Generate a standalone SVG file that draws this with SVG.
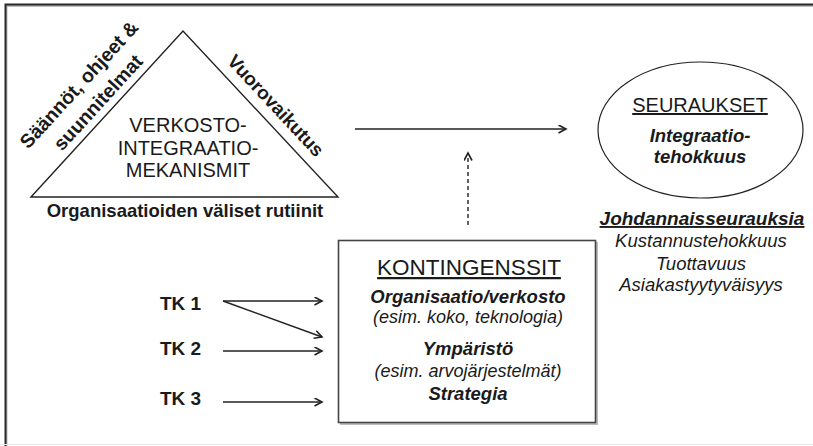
<svg xmlns="http://www.w3.org/2000/svg" width="813" height="446" viewBox="0 0 813 446">
<defs>
<style>
text{font-family:"Liberation Sans",Arial,sans-serif;fill:#1a1a1a;}
.c{text-anchor:middle;}
.b{font-weight:bold;}
.i{font-style:italic;}
.u{text-decoration:underline;}
.ln{stroke:#222;stroke-width:1.4;fill:none;}
</style>
<marker id="ah" markerWidth="10" markerHeight="10" refX="8" refY="4.5" orient="auto" markerUnits="userSpaceOnUse">
<path d="M0.5,0.5 L8,4.5 L0.5,8.5" fill="none" stroke="#222" stroke-width="1.6"/>
</marker>
</defs>
<rect width="813" height="446" fill="#fff"/>
<g id="frame">
<path d="M5.5,446 V4.5 H813" fill="none" stroke="#bbb" stroke-width="2" transform="translate(1,1.5)"/>
<path d="M5.5,446 V4.5 H813" fill="none" stroke="#2a2a2a" stroke-width="2"/>
<line x1="0" y1="444.5" x2="813" y2="444.5" stroke="#e6e6e6" stroke-width="1"/>
</g>
<g id="mekanismit">
<polygon points="31,197 183,31 338,197" fill="#fff" stroke="#222" stroke-width="1.4"/>
<text class="c" x="188" y="132" font-size="20">VERKOSTO-</text>
<text class="c" x="188" y="155" font-size="20">INTEGRAATIO-</text>
<text class="c" x="188" y="177" font-size="20">MEKANISMIT</text>
<text class="c b" x="185" y="217" font-size="18.5">Organisaatioiden väliset rutiinit</text>
<text class="c b" font-size="19.5" transform="translate(84,89) rotate(-47.5)">Säännöt, ohjeet &amp;</text>
<text class="c b" font-size="19.5" transform="translate(103,107) rotate(-47.5)">suunnitelmat</text>
<text class="c b" font-size="19" transform="translate(271,110) rotate(47)">Vuorovaikutus</text>
</g>
<g id="seuraukset">
<ellipse cx="700.5" cy="130" rx="102.5" ry="68" fill="#fff" stroke="#222" stroke-width="1.2"/>
<text class="c u" x="700" y="112" font-size="20">SEURAUKSET</text>
<text class="c b i" x="700" y="142" font-size="18.5">Integraatio-</text>
<text class="c b i" x="700" y="163" font-size="18.5">tehokkuus</text>
</g>
<g id="johdannaiset">
<text class="c b i u" x="702" y="225" font-size="19">Johdannaisseurauksia</text>
<text class="c i" x="701" y="247" font-size="18.5">Kustannustehokkuus</text>
<text class="c i" x="701" y="270" font-size="18.5">Tuottavuus</text>
<text class="c i" x="701" y="291" font-size="18.5">Asiakastyytyväisyys</text>
</g>
<g id="kontingenssit">
<rect x="340" y="242" width="258" height="183" fill="#bbb"/>
<rect x="338.5" y="240.5" width="257" height="182" fill="#fff" stroke="#444" stroke-width="1.6"/>
<text class="c u" x="469" y="275" font-size="22.5">KONTINGENSSIT</text>
<text class="c b i" x="468" y="303" font-size="18.5">Organisaatio/verkosto</text>
<text class="c i" x="468" y="323" font-size="18">(esim. koko, teknologia)</text>
<text class="c b i" x="468" y="355" font-size="18.5">Ympäristö</text>
<text class="c i" x="468" y="377" font-size="18">(esim. arvojärjestelmät)</text>
<text class="c b i" x="468" y="400" font-size="18.5">Strategia</text>
</g>
<g id="tk1"><text class="b" x="160" y="310" font-size="19">TK 1</text></g>
<g id="tk2"><text class="b" x="160" y="355" font-size="19">TK 2</text></g>
<g id="tk3"><text class="b" x="160" y="405" font-size="19">TK 3</text></g>
<g id="connectors">
<line class="ln" x1="355" y1="129" x2="566" y2="129" marker-end="url(#ah)"/>
<line class="ln" x1="468" y1="225" x2="468" y2="153" stroke-dasharray="4,3" marker-end="url(#ah)"/>
<line class="ln" x1="223" y1="301" x2="322" y2="301" marker-end="url(#ah)"/>
<line class="ln" x1="223" y1="301" x2="322" y2="337" marker-end="url(#ah)"/>
<line class="ln" x1="223" y1="351" x2="322" y2="351" marker-end="url(#ah)"/>
<line class="ln" x1="223" y1="402" x2="322" y2="402" marker-end="url(#ah)"/>
</g>
</svg>
